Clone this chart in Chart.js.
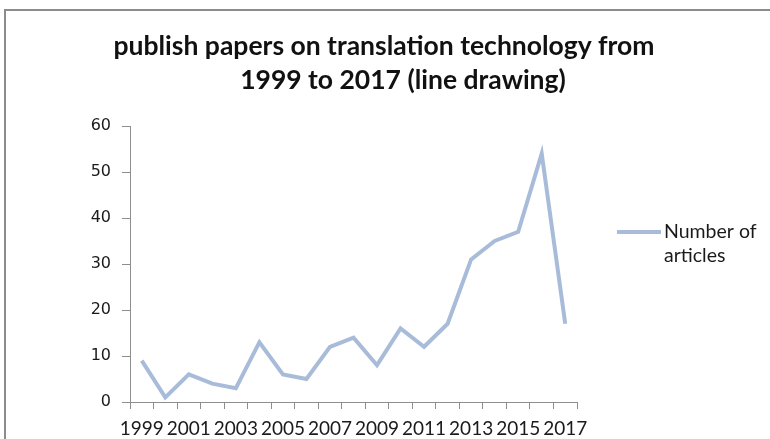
<!DOCTYPE html>
<html>
<head>
<meta charset="utf-8">
<script src="https://cdn.jsdelivr.net/npm/chart.js@4/dist/chart.umd.min.js"></script>
<style>
  html, body { margin: 0; padding: 0; background: #fff; }
  #wrap { position: relative; width: 770px; height: 439px; overflow: hidden; }
  #frame { position: absolute; left: 4px; top: 9px; width: 800px; height: 500px;
           border-left: 2px solid #8c8c8c; border-top: 2px solid #8c8c8c; }
  canvas { position: absolute; left: 0; top: 0; }
</style>
</head>
<body>
<div id="wrap">
  <div id="frame"></div>
  <canvas id="c" width="770" height="439"></canvas>
</div>
<script>
const years = ['1999','2000','2001','2002','2003','2004','2005','2006','2007','2008',
               '2009','2010','2011','2012','2013','2014','2015','2016','2017'];
const articles = [9, 1, 6, 4, 3, 13, 6, 5, 12, 14, 8, 16, 12, 17, 31, 35, 37, 54, 17];
const seriesName = 'Number of articles';
const legendLines = ['Number of', 'articles'];
const titleLines = ['publish papers on translation technology from', '1999 to 2017 (line drawing)'];
const yTicks = [0, 10, 20, 30, 40, 50, 60];

const lineColor = '#a8bcd9';
const axisColor = '#8e8e8e';

const customText = {
  id: 'customText',
  afterDraw(chart) {
    const ctx = chart.ctx;
    const ca = chart.chartArea;
    ctx.save();
    // title
    ctx.fillStyle = '#111';
    ctx.font = 'bold 26.5px Lato';
    ctx.textAlign = 'center';
    ctx.textBaseline = 'middle';
    ctx.fillText(titleLines[0], 384, 46);
    ctx.fillText(titleLines[1], 403, 80);
    // legend
    const x0 = ca.right + 40;
    const y0 = 232;
    ctx.strokeStyle = lineColor;
    ctx.lineWidth = 4;
    ctx.beginPath();
    ctx.moveTo(x0, y0);
    ctx.lineTo(x0 + 44, y0);
    ctx.stroke();
    ctx.fillStyle = '#1a1a1a';
    ctx.font = '19.5px Lato';
    ctx.textAlign = 'left';
    ctx.fillText(legendLines[0], x0 + 47, y0);
    ctx.fillText(legendLines[1], x0 + 47, y0 + 24);
    ctx.restore();
  }
};

new Chart(document.getElementById('c'), {
  type: 'line',
  data: {
    labels: years,
    datasets: [{
      label: seriesName,
      data: articles,
      borderColor: lineColor,
      backgroundColor: lineColor,
      borderWidth: 4,
      pointRadius: 0,
      tension: 0,
      fill: false
    }]
  },
  options: {
    responsive: false,
    animation: false,
    devicePixelRatio: 1,
    layout: { padding: { left: 0, right: 193, top: 126, bottom: 0 } },
    plugins: {
      legend: { display: false },
      tooltip: { enabled: false },
      title: { display: false }
    },
    scales: {
      x: {
        type: 'category',
        offset: true,
        afterFit(scale) { scale.height = 37; },
        border: { display: true, color: axisColor, width: 1 },
        grid: { display: true, offset: true, drawOnChartArea: false, drawTicks: true,
                tickLength: 7, color: axisColor },
        ticks: {
          autoSkip: false, maxRotation: 0, minRotation: 0, padding: 8,
          color: '#1a1a1a',
          font: { family: 'Lato', size: 19 },
          callback(value, index) { return index % 2 === 0 ? years[index] : ''; }
        }
      },
      y: {
        min: 0, max: 60,
        afterFit(scale) { scale.width = 130; },
        afterBuildTicks(scale) { scale.ticks = yTicks.map(v => ({ value: v })); },
        border: { display: true, color: axisColor, width: 1 },
        grid: { display: true, drawOnChartArea: false, drawTicks: true, tickLength: 8, color: axisColor },
        ticks: {
          stepSize: 10, padding: 11,
          color: '#1a1a1a',
          font: { family: 'DejaVu Sans', size: 16 }
        }
      }
    }
  },
  plugins: [customText]
});
</script>
</body>
</html>
